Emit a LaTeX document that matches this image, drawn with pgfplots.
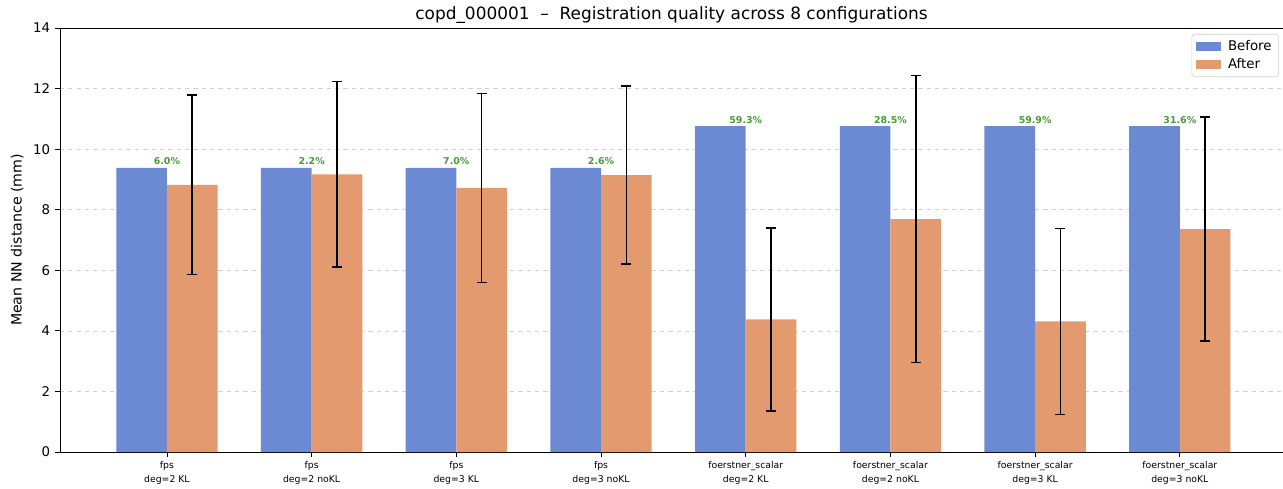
\documentclass[border=0pt]{standalone}
\usepackage{fontspec}
\setmainfont{DejaVu Sans}
\usepackage{pgfplots}
\pgfplotsset{compat=1.18}
\definecolor{cBefore}{HTML}{6B8AD3}
\definecolor{cAfter}{HTML}{E39A6E}
\definecolor{cPct}{HTML}{4A9A3A}
\definecolor{cGrid}{HTML}{D0D0D0}
\begin{document}
\begin{tikzpicture}
\begin{axis}[
  scale only axis,
  width=880.56pt, height=305.28pt,
  xmin=-0.739, xmax=7.713,
  ymin=0, ymax=14,
  ytick={0,2,4,6,8,10,12,14},
  xtick={0,1,2,3,4,5,6,7},
  xticklabels={{fps\\deg=2 KL},{fps\\deg=2 noKL},{fps\\deg=3 KL},{fps\\deg=3 noKL},{foerstner\_scalar\\deg=2 KL},{foerstner\_scalar\\deg=2 noKL},{foerstner\_scalar\\deg=3 KL},{foerstner\_scalar\\deg=3 noKL}},
  xticklabel style={align=center, font=\fontsize{6.7}{9.4}\selectfont},
  yticklabel style={font=\fontsize{9.6}{11}\selectfont},
  /pgf/number format/assume math mode=true,
  axis x line*=box, axis y line*=left,
  xtick pos=bottom, ytick pos=left,
  tick align=outside,
  major tick length=3.6pt,
  every tick/.style={black, line width=0.6pt},
  axis line style={black, line width=0.6pt},
  ymajorgrids,
  grid style={cGrid, dashed, line width=0.5pt},
  ylabel={Mean NN distance (mm)},
  ylabel style={font=\fontsize{10.2}{12}\selectfont},
  title={copd\_000001\ \ –\ \ Registration quality across 8 configurations},
  every axis title/.style={at={(0.5,1)}, anchor=base, yshift=5.8pt, font=\fontsize{12.2}{14}\selectfont},
  ybar, bar width=0.35,
  legend style={at={(1,1)}, anchor=north east, xshift=-3pt, yshift=-4.3pt,
    draw=black!20, rounded corners=2pt, font=\fontsize{9.6}{11}\selectfont,
    row sep=0pt, inner xsep=3pt, inner ysep=2.5pt},
  legend cell align=left,
  legend image code/.code={\fill[#1, sharp corners] (0pt,-3.2pt) rectangle (18pt,3.2pt);},
]
\addplot[fill=cBefore, draw=none, bar shift=-0.175] coordinates {
  (0,9.38) (1,9.38) (2,9.38) (3,9.38) (4,10.76) (5,10.76) (6,10.76) (7,10.76)};
\addlegendentry{\hspace{3pt}Before}
\addplot[fill=cAfter, draw=none, bar shift=0.175,
  error bars/.cd, y dir=both, y explicit,
  error mark=|,
  error bar style={black, line width=1.1pt},
  error mark options={black, line width=1.1pt, mark size=3.6pt}]
  coordinates {
  (0,8.82) +- (0,2.96)
  (1,9.17) +- (0,3.07)
  (2,8.72) +- (0,3.12)
  (3,9.14) +- (0,2.94)
  (4,4.38) +- (0,3.02)
  (5,7.69) +- (0,4.74)
  (6,4.31) +- (0,3.07)
  (7,7.36) +- (0,3.70)};
\addlegendentry{\hspace{3pt}After}
\foreach \x/\y/\t in {0/9.38/6.0, 1/9.38/2.2, 2/9.38/7.0, 3/9.38/2.6, 4/10.76/59.3, 5/10.76/28.5, 6/10.76/59.9, 7/10.76/31.6}{
  \edef\tmp{\noexpand\node[anchor=base, text=cPct, font=\noexpand\fontsize{6.8}{7}\noexpand\selectfont\noexpand\bfseries, inner sep=0pt] at (axis cs:\x,\y) [yshift=2.2pt] {\t\noexpand\%};}\tmp
}
\end{axis}
\pgfresetboundingbox
\path (-43.2pt,-25.92pt) rectangle (880.56pt,325.44pt);
\end{tikzpicture}
\end{document}
